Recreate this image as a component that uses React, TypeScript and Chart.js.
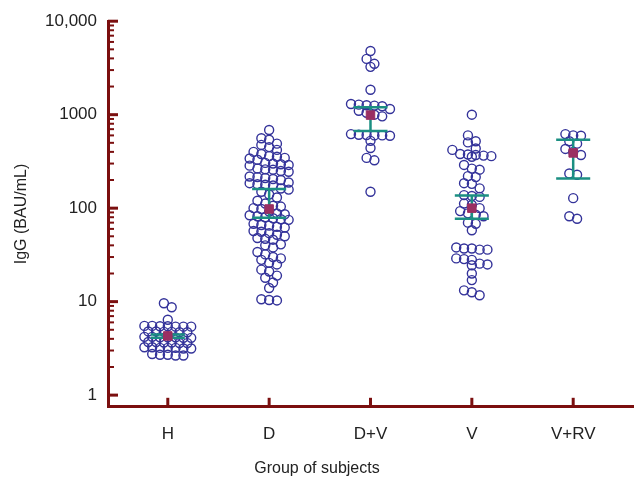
import { useEffect, useRef } from "react";
import { Chart, registerables } from "chart.js";

Chart.register(...registerables);

// Groups along the x axis
const categories = ["H", "D", "D+V", "V", "V+RV"];

// IgG values (BAU/mL), one array per group
const groupH = [
  9.6, 8.7, 6.4,
  5.5, 5.5, 5.45, 5.45, 5.4, 5.4, 5.4,
  4.8, 4.8, 4.75, 4.75, 4.7, 4.7,
  4.2, 4.2, 4.15, 4.15, 4.15, 4.1, 4.1,
  3.7, 3.7, 3.65, 3.65, 3.6, 3.6,
  3.25, 3.25, 3.2, 3.2, 3.2, 3.15, 3.15,
  2.75, 2.7, 2.7, 2.65, 2.65,
];
const groupD = [
  685, 560, 540, 490, 475, 450, 420, 400, 380, 360, 355, 345, 340, 330, 305, 300,
  295, 290, 285, 265, 260, 258, 250, 245, 218, 215, 210, 205, 200, 188, 185, 180,
  178, 175, 162, 158, 150, 140, 130, 120, 112, 106, 104, 100, 98, 92, 88, 86, 84,
  82, 80, 78, 76, 75, 68, 66, 65, 63, 62, 57, 56, 54, 52, 50, 48, 47, 46, 41, 40,
  38, 34, 32, 30, 29, 28, 26, 25, 22, 21, 19, 18, 16, 14, 10.6, 10.4, 10.3,
];
const groupDV = [
  4800, 3950, 3500, 3250, 1850, 1300, 1280, 1260, 1250, 1230, 1150, 1100, 1050,
  1000, 960, 620, 610, 605, 600, 600, 595, 525, 440, 345, 325, 150,
];
const groupV = [
  1000, 600, 520, 505, 435, 420, 380, 375, 370, 365, 360, 355, 290, 265, 258,
  220, 215, 185, 182, 163, 138, 135, 132, 112, 108, 100, 93, 88, 85, 82, 70, 68,
  58, 38, 37, 37, 36, 36, 29, 28.5, 28, 25.5, 25, 24.5, 20, 17, 13.2, 12.6, 11.7,
];
const groupVRV = [620, 600, 595, 520, 490, 430, 400, 370, 235, 228, 128, 82, 77];

const groups = [groupH, groupD, groupDV, groupV, groupVRV];

// Geometric means and confidence bounds per group
const groupMeans = [4.3, 98, 990, 100, 390];
const ciLower = [4.1, 79, 670, 77, 208];
const ciUpper = [4.45, 160, 1200, 137, 540];

// Y axis ticks
const yMajorTicks = [1, 10, 100, 1000, 10000];
const yMajorLabels = ["1", "10", "100", "1000", "10,000"];
const yMinorSteps = [2, 3, 4, 5, 6, 7, 8, 9];

// layout of the dot columns: row height (px) used per group
const rowHeights = [5, 6.5, 6.5, 6.5, 6.5];

const AXIS_COLOR = "#7b0f0f";
const DOT_COLOR = "#34339a";
const CI_COLOR = "#1b8f82";
const MEAN_COLOR = "#9a2f62";
const TEXT_COLOR = "#222";
const FONT = "'Liberation Sans', Arial, sans-serif";

const yTickValues: number[] = [];
yMajorTicks.forEach((m) => {
  yTickValues.push(m);
  if (m < 10000) yMinorSteps.forEach((s) => yTickValues.push(m * s));
});

// Prism-style scatter: points whose pixel heights fall in the same row sit side by side
function rowOffsets(ysPx: number[], rowH: number, step: number): number[] {
  const order = ysPx.map((_, i) => i).sort((a, b) => ysPx[a] - ysPx[b]);
  const out = new Array(ysPx.length).fill(0);
  let row: number[] = [];
  let start = -Infinity;
  const flush = () => {
    row.forEach((idx, k) => {
      out[idx] = (k - (row.length - 1) / 2) * step;
    });
    row = [];
  };
  for (const idx of order) {
    if (ysPx[idx] - start >= rowH) {
      flush();
      start = ysPx[idx];
    }
    row.push(idx);
  }
  flush();
  return out;
}

// ticks pointing into the plot area, like the original figure
const inwardTicks = {
  id: "inwardTicks",
  beforeDatasetsDraw(chart: any) {
    const { ctx, chartArea, scales } = chart;
    const ys = scales.y;
    const xs = scales.x;
    ctx.save();
    ctx.strokeStyle = AXIS_COLOR;
    yTickValues.forEach((v) => {
      const py = ys.getPixelForValue(v);
      const major = yMajorTicks.includes(v);
      ctx.lineWidth = major ? 3 : 2;
      ctx.beginPath();
      ctx.moveTo(chartArea.left, py);
      ctx.lineTo(chartArea.left + (major ? 10 : 6), py);
      ctx.stroke();
    });
    ctx.lineWidth = 3;
    categories.forEach((_, i) => {
      const px = xs.getPixelForValue(i);
      ctx.beginPath();
      ctx.moveTo(px, chartArea.bottom);
      ctx.lineTo(px, chartArea.bottom - 9);
      ctx.stroke();
    });
    ctx.restore();
  },
};

export default function App() {
  const canvasRef = useRef<HTMLCanvasElement>(null);

  useEffect(() => {
    document.body.style.margin = "0";
    if (!canvasRef.current) return;
    const ctx = canvasRef.current.getContext("2d");
    if (!ctx) return;

    const halfW = 0.168;
    const ciData: any[] = [];
    categories.forEach((_, i) => {
      ciData.push({ x: i - halfW, y: ciUpper[i] }, { x: i + halfW, y: ciUpper[i] }, { x: i, y: null });
      ciData.push({ x: i, y: ciUpper[i] }, { x: i, y: ciLower[i] }, { x: i, y: null });
      ciData.push({ x: i - halfW, y: ciLower[i] }, { x: i + halfW, y: ciLower[i] }, { x: i, y: null });
    });

    const chart = new Chart(ctx, {
      type: "scatter",
      data: {
        datasets: [
          {
            label: "Subjects",
            data: groups.flatMap((g, i) => g.map((v) => ({ x: i, y: v }))),
            pointRadius: 4.5,
            pointBorderWidth: 1.4,
            pointBorderColor: DOT_COLOR,
            pointBackgroundColor: "rgba(0,0,0,0)",
            order: 3,
          },
          {
            label: "95% CI",
            data: ciData,
            showLine: true,
            spanGaps: false,
            borderColor: CI_COLOR,
            borderWidth: 2.5,
            pointRadius: 0,
            order: 2,
          },
          {
            label: "Mean",
            data: groupMeans.map((m, i) => ({ x: i, y: m })),
            pointStyle: "rect",
            pointRadius: 6,
            pointBorderWidth: 1,
            pointBorderColor: MEAN_COLOR,
            pointBackgroundColor: MEAN_COLOR,
            order: 1,
          },
        ],
      },
      options: {
        responsive: false,
        animation: false,
        events: [],
        layout: { autoPadding: false, padding: { top: 17, right: 0, left: 0, bottom: 0 } },
        scales: {
          x: {
            type: "linear",
            min: -0.59,
            max: 4.6,
            afterBuildTicks: (scale: any) => {
              scale.ticks = categories.map((_, i) => ({ value: i }));
            },
            afterFit: (scale: any) => {
              scale.height = 38;
            },
            grid: { display: false, drawTicks: false },
            border: { display: true, color: AXIS_COLOR, width: 3 },
            ticks: {
              padding: 17,
              color: TEXT_COLOR,
              font: { family: FONT, size: 17 },
              maxRotation: 0,
              callback: (v: any) => categories[Number(v)] ?? "",
            },
          },
          y: {
            type: "logarithmic",
            min: 0.75,
            max: 10000,
            afterBuildTicks: (scale: any) => {
              scale.ticks = yTickValues.map((v) => ({ value: v, major: yMajorTicks.includes(v) }));
            },
            afterFit: (scale: any) => {
              scale.width = 108;
            },
            grid: { display: false, drawTicks: false },
            border: { display: true, color: AXIS_COLOR, width: 3 },
            ticks: {
              padding: 11,
              color: TEXT_COLOR,
              autoSkip: false,
              font: { family: FONT, size: 17 },
              callback: (v: any) => {
                const k = yMajorTicks.indexOf(Number(v));
                return k >= 0 ? yMajorLabels[k] : "";
              },
            },
            title: {
              display: true,
              text: "IgG (BAU/mL)",
              color: TEXT_COLOR,
              font: { family: FONT, size: 16 },
              padding: { top: 12, bottom: 0 },
            },
          },
        },
        plugins: {
          legend: { display: false },
          tooltip: { enabled: false },
          title: {
            display: true,
            position: "bottom",
            text: "Group of subjects",
            color: TEXT_COLOR,
            font: { family: FONT, size: 16, weight: "normal" },
            padding: { top: 14, bottom: 6 },
          },
        },
      },
      plugins: [inwardTicks],
    });

    // spread the dots of each group sideways once the scales are known
    const xs: any = chart.scales.x;
    const ys: any = chart.scales.y;
    const unit = xs.getPixelForValue(1) - xs.getPixelForValue(0);
    const spread = groups.flatMap((g, i) => {
      const offs = rowOffsets(g.map((v) => ys.getPixelForValue(v)), rowHeights[i], 7.8);
      return g.map((v, k) => ({ x: i + offs[k] / unit, y: v }));
    });
    chart.data.datasets[0].data = spread;
    chart.update();

    return () => {
      chart.destroy();
    };
  }, []);

  return (
    <div style={{ width: 634, height: 484, background: "#fff" }}>
      <canvas ref={canvasRef} width={634} height={484} />
    </div>
  );
}
